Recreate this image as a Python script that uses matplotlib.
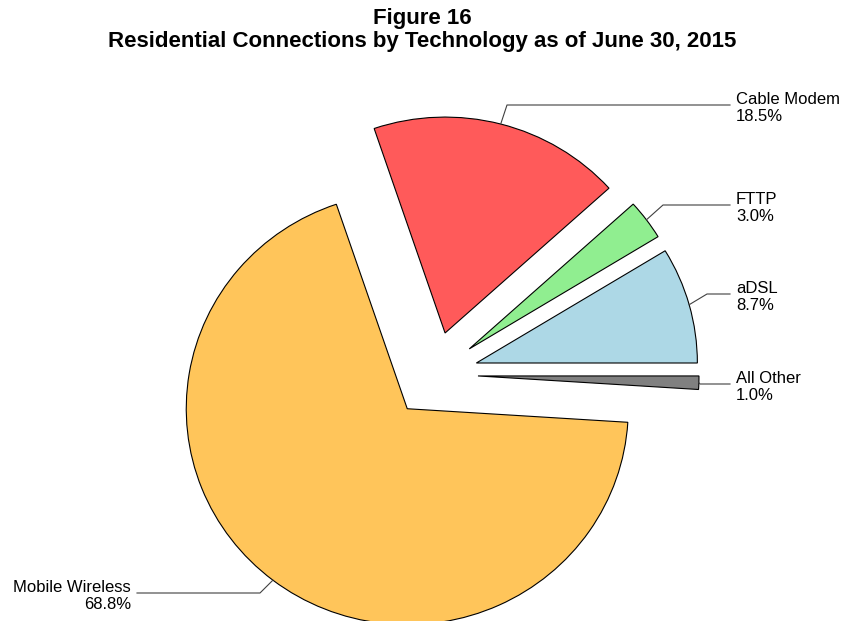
import numpy as np
import matplotlib.pyplot as plt

# data, counter-clockwise from 3 o'clock
labels = ["aDSL", "FTTP", "Cable Modem", "Mobile Wireless", "All Other"]
shares = [8.7, 3.0, 18.5, 68.8, 1.0]
colors = ["#ADD8E6", "#90EE90", "#FF5A5A", "#FFC55A", "#808080"]

# label layout (pixels, y from top): elbow of leader, end of horizontal
elbows = [(707, 294), (663, 205), (507, 105), (260, 593), (700, 384)]
line_ends = [730, 730, 730, 137, 730]

W, H = 845, 621
SY = 0.977            # the original pie is slightly squashed vertically
CX, CY, R = 434, 374.6, 221
explode = [44] * len(shares)  # pie offsets are in data units


def ypix(y):
    # pixel row (from top) -> data y
    return (H - y) / SY


plt.rcParams['font.family'] = ['Liberation Sans', 'DejaVu Sans']

fig = plt.figure(figsize=(W / 100, H / 100), dpi=100)
ax = fig.add_axes([0, 0, 1, 1])

wedges, _ = ax.pie(shares, colors=colors, explode=explode, startangle=0,
                   counterclock=True, radius=R, center=(CX, ypix(CY)),
                   wedgeprops=dict(edgecolor='black', linewidth=0.8),
                   frame=True)
ax.set_xlim(0, W)
ax.set_ylim(0, H / SY)
ax.set_aspect('auto')
ax.axis('off')

for w, lab, val, (ex, ey), xend in zip(wedges, labels, shares, elbows, line_ends):
    mid = np.deg2rad((w.theta1 + w.theta2) / 2)
    cx, cy = w.center
    sx = cx + w.r * np.cos(mid)
    sy = cy + w.r * np.sin(mid)
    ey = ypix(ey)
    ax.plot([sx, ex, xend], [sy, ey, ey], color='#404040', linewidth=0.8)
    txt = f"{lab}\n{val:.1f}%"
    if xend > ex:
        ax.text(xend + 6, ey - 3, txt, ha='left', va='center', fontsize=12,
                linespacing=1.2)
    else:
        ax.text(xend - 6, ey - 3, txt, ha='right', va='center', fontsize=12,
                linespacing=1.2, multialignment='right')

fig.text(0.5, 1 - 30 / H, "Figure 16\nResidential Connections by Technology as of June 30, 2015",
         ha='center', va='center', fontsize=16, fontweight='bold',
         family=['Liberation Sans Narrow', 'Liberation Sans'], linespacing=1.1)

fig.savefig("out.png", dpi=100)
